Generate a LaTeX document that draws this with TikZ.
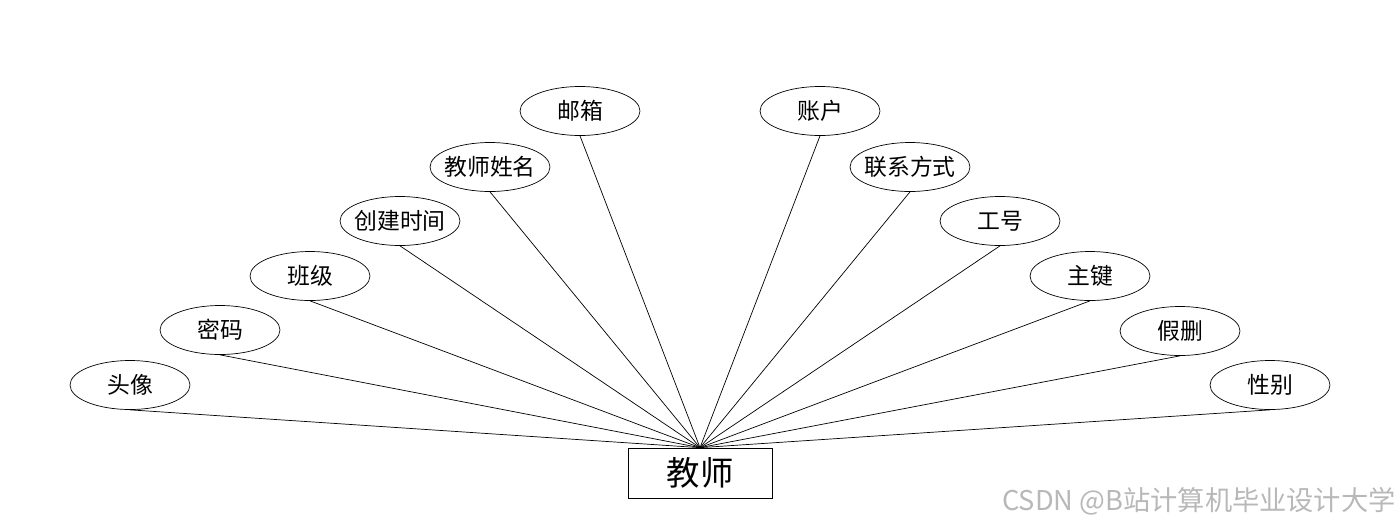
\documentclass[tikz,border=0pt]{standalone}
\usepackage{fontspec}
\setmainfont{Noto Sans CJK SC}
\usetikzlibrary{shapes.geometric}

\tikzset{
  attr/.style={draw,ellipse,minimum width=2.4cm,minimum height=0.98cm,inner ysep=0pt,inner xsep=-6pt,font=\fontsize{13}{15}\selectfont},
  entity/.style={draw,rectangle,minimum width=2.88cm,minimum height=1.0cm,inner sep=0pt,font=\fontsize{19}{22}\selectfont},
}

\begin{document}
\begin{tikzpicture}[x=0.02cm,y=-0.02cm]
  \useasboundingbox (0,0) rectangle (1400,528);
  % entity
  \node[entity] (jiaoshi) at (700,473) {教师};
  % left attributes
  \node[attr] (touxiang) at (130,385) {头像};
  \node[attr] (mima) at (220,330) {密码};
  \node[attr] (banji) at (310,276) {班级};
  \node[attr] (chuangjian) at (400,221) {创建时间};
  \node[attr] (xingming) at (490,167) {教师姓名};
  \node[attr] (youxiang) at (580,111) {邮箱};
  % right attributes
  \node[attr] (zhanghu) at (820,111) {账户};
  \node[attr] (lianxi) at (910,167) {联系方式};
  \node[attr] (gonghao) at (1000,221) {工号};
  \node[attr] (zhujian) at (1090,276) {主键};
  \node[attr] (jiashan) at (1180,331) {假删};
  \node[attr] (xingbie) at (1270,385) {性别};
  % links
  \foreach \a in {touxiang,mima,banji,chuangjian,xingming,youxiang,zhanghu,lianxi,gonghao,zhujian,jiashan,xingbie}
    \draw (\a.south) -- (jiaoshi.north);
  % watermark
  \node[anchor=east,text=black!28,font=\fontsize{15.5}{18}\selectfont,inner sep=0pt] (mark) at (1396,501) {CSDN @B站计算机毕业设计大学};
\end{tikzpicture}
\end{document}
